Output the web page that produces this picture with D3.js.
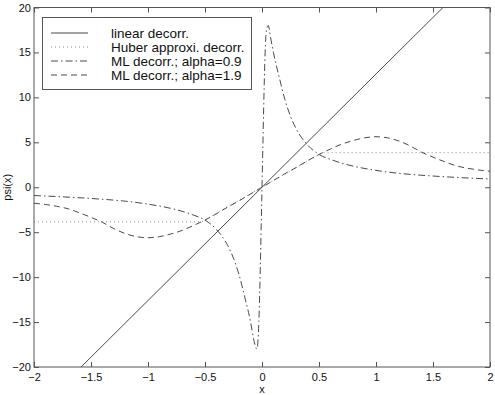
<!DOCTYPE html>
<html>
<head>
<meta charset="utf-8">
<script src="https://cdn.jsdelivr.net/npm/d3@7"></script>
<style>
  body { margin: 0; background: #fff; }
  svg { font-family: "Liberation Sans", Arial, sans-serif; }
</style>
</head>
<body>
<svg id="chart" width="495" height="395"></svg>
<script>
// values
const xTicks = [-2, -1.5, -1, -0.5, 0, 0.5, 1, 1.5, 2]
const yTicks = [-20, -15, -10, -5, 0, 5, 10, 15, 20]

const linearX = [-2, 2]
const linearY = [-25.2, 25.2]

const huberX = [-2, -0.53, 0.53, 2]
const huberY = [-3.85, -3.85, 3.85, 3.85]

const ml09X = [-2, -1.5, -1.2, -1, -0.8, -0.6, -0.5, -0.4, -0.3, -0.25, -0.2, -0.15, -0.1, -0.075, -0.06, -0.045, -0.035, -0.025, -0.015, -0.007,
    0, 0.007, 0.015, 0.025, 0.035, 0.045, 0.055, 0.065, 0.075, 0.1, 0.15, 0.2, 0.25, 0.3, 0.4, 0.5, 0.6, 0.8, 1, 1.2, 1.5, 2]
const ml09Y = [-0.92, -1.25, -1.55, -1.88, -2.35, -3.1, -3.65, -4.7, -6.5, -7.9, -9.8, -12.3, -15.0, -16.8, -17.6, -18.0, -17.0, -14.0, -9.0, -4.2,
    0, 4.2, 9.0, 14.0, 17.0, 17.8, 18.0, 17.5, 16.7, 15.0, 12.3, 9.8, 7.9, 6.5, 4.7, 3.65, 3.1, 2.35, 1.88, 1.55, 1.25, 0.92]

const ml19X = [-2, -1.9, -1.8, -1.7, -1.6, -1.5, -1.4, -1.3, -1.2, -1.1, -1, -0.9, -0.8, -0.7, -0.6, -0.5, -0.4, -0.3, -0.2, -0.1,
    0, 0.1, 0.2, 0.3, 0.4, 0.5, 0.6, 0.7, 0.8, 0.9, 1, 1.1, 1.2, 1.3, 1.4, 1.5, 1.6, 1.7, 1.8, 1.9, 2]
const ml19Y = [-1.78, -1.92, -2.12, -2.4, -2.85, -3.35, -3.9, -4.6, -5.15, -5.5, -5.62, -5.5, -5.2, -4.8, -4.25, -3.65, -2.95, -2.2, -1.5, -0.75,
    0, 0.75, 1.5, 2.2, 2.95, 3.65, 4.25, 4.8, 5.2, 5.5, 5.62, 5.5, 5.15, 4.6, 3.9, 3.35, 2.85, 2.4, 2.12, 1.92, 1.78]

const legendLabels = ['linear decorr.', 'Huber approxi. decorr.', 'ML decorr.; alpha=0.9', 'ML decorr.; alpha=1.9']

const svg = d3.select('#chart')
const margin = ({ top: 7.5, right: 5, bottom: 28, left: 34 })
const width = 495, height = 395

const x = d3.scaleLinear().domain([-2, 2]).range([margin.left, width - margin.right])
const y = d3.scaleLinear().domain([-20, 20]).range([height - margin.bottom, margin.top])

const axisColor = '#555'
const lineColor = '#4a4a4a'

svg.append('defs').append('clipPath').attr('id', 'clip')
    .append('rect')
    .attr('x', x(-2)).attr('y', y(20))
    .attr('width', x(2) - x(-2)).attr('height', y(-20) - y(20))

// axes with inward ticks, MATLAB style
const styleAxis = g => {
    g.select('.domain').remove()
    g.selectAll('.tick line').attr('stroke', axisColor)
    g.selectAll('.tick text').attr('fill', '#111').attr('font-size', 11)
}
svg.append('g')
    .attr('transform', `translate(0,${y(-20)})`)
    .call(d3.axisBottom(x).tickValues(xTicks).tickSizeInner(-5).tickSizeOuter(0).tickPadding(6)
        .tickFormat(d => d3.format('')(d).replace('-', '\u2212')))
    .call(styleAxis)
svg.append('g')
    .attr('transform', `translate(0,${y(20)})`)
    .call(d3.axisTop(x).tickValues(xTicks).tickSizeInner(-5).tickSizeOuter(0).tickFormat(''))
    .call(styleAxis)
svg.append('g')
    .attr('transform', `translate(${x(-2)},0)`)
    .call(d3.axisLeft(y).tickValues(yTicks).tickSizeInner(-5).tickSizeOuter(0).tickPadding(3)
        .tickFormat(d => String(d).replace('-', '\u2212')))
    .call(styleAxis)
svg.append('g')
    .attr('transform', `translate(${x(2)},0)`)
    .call(d3.axisRight(y).tickValues(yTicks).tickSizeInner(-5).tickSizeOuter(0).tickFormat(''))
    .call(styleAxis)

svg.append('rect')
    .attr('x', x(-2)).attr('y', y(20))
    .attr('width', x(2) - x(-2)).attr('height', y(-20) - y(20))
    .attr('fill', 'none').attr('stroke', axisColor).attr('stroke-width', 1)

svg.append('text')
    .attr('x', (x(-2) + x(2)) / 2).attr('y', 393)
    .attr('text-anchor', 'middle').attr('font-size', 11).attr('fill', '#111')
    .text('x')
svg.append('text')
    .attr('transform', `translate(11,${y(0)}) rotate(-90)`)
    .attr('text-anchor', 'middle').attr('font-size', 11).attr('fill', '#111')
    .text('psi(x)')

const series = [
    { xs: linearX, ys: linearY, dash: null, curve: d3.curveLinear },
    { xs: huberX, ys: huberY, dash: '1,3', curve: d3.curveLinear },
    { xs: ml09X, ys: ml09Y, dash: '7,3,1.5,3', curve: d3.curveMonotoneX },
    { xs: ml19X, ys: ml19Y, dash: '6,4', curve: d3.curveMonotoneX }
]

const plot = svg.append('g').attr('clip-path', 'url(#clip)')
series.forEach(s => {
    const line = d3.line()
        .x(i => x(s.xs[i]))
        .y(i => y(s.ys[i]))
        .curve(s.curve)
    plot.append('path')
        .datum(d3.range(s.xs.length))
        .attr('fill', 'none')
        .attr('stroke', s.dash === '1,3' ? '#888' : lineColor)
        .attr('stroke-width', 1)
        .attr('stroke-dasharray', s.dash)
        .attr('d', line)
})

// legend
const lg = svg.append('g')
lg.append('rect')
    .attr('x', 42.5).attr('y', 17.5).attr('width', 209).attr('height', 72)
    .attr('fill', '#fff').attr('stroke', axisColor)
legendLabels.forEach((label, i) => {
    const ly = 33 + i * 14
    lg.append('line')
        .attr('x1', 51).attr('x2', 88).attr('y1', ly).attr('y2', ly)
        .attr('stroke', i === 1 ? '#888' : lineColor)
        .attr('stroke-dasharray', series[i].dash)
    lg.append('text')
        .attr('x', 111).attr('y', ly).attr('dy', '0.35em')
        .attr('font-size', 13.5).attr('fill', '#111')
        .text(label)
})
</script>
</body>
</html>
